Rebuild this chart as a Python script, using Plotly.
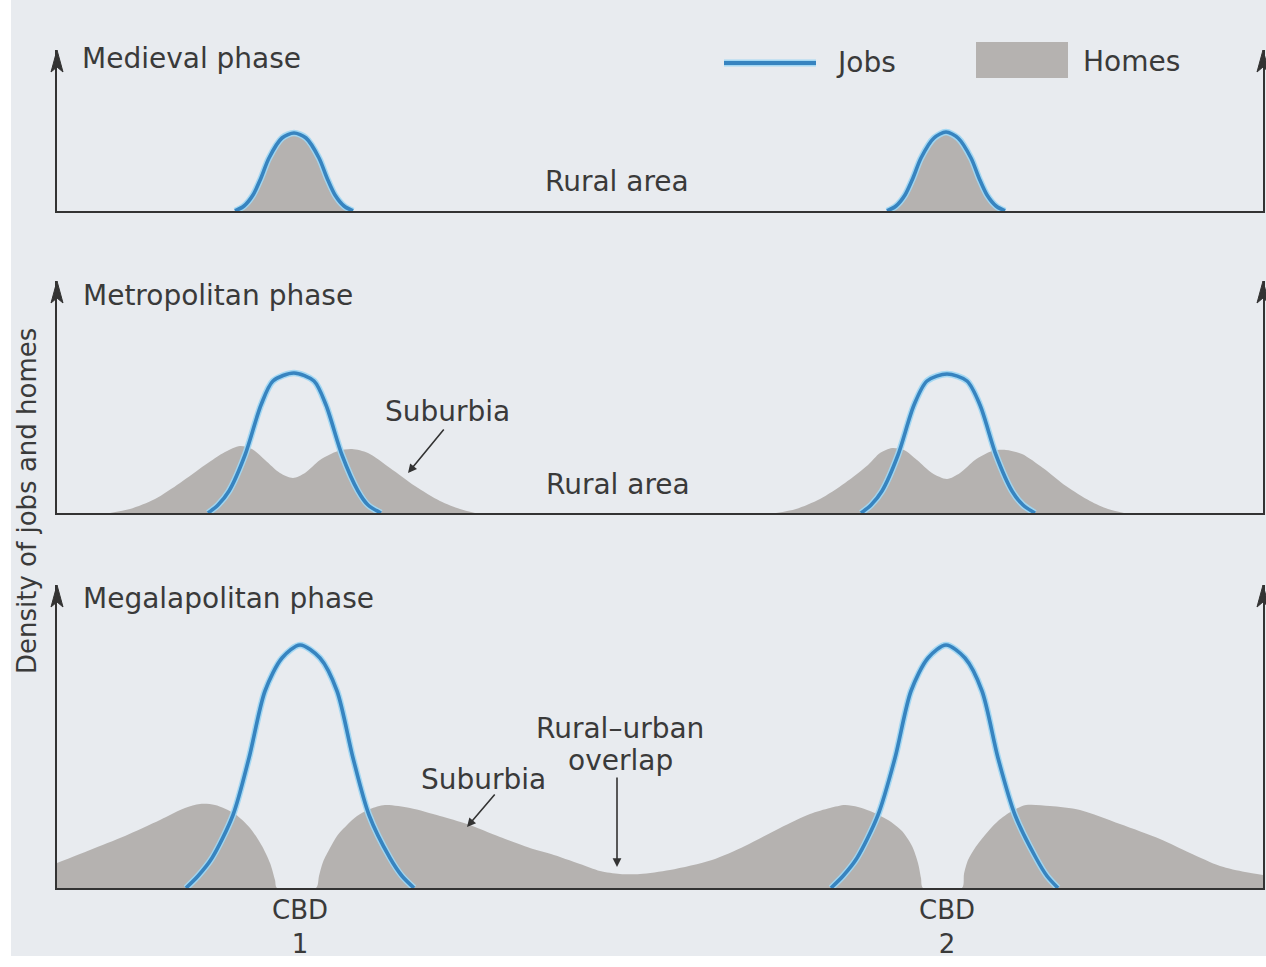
import plotly.graph_objects as go

W, H = 1266, 967

# ---------------- data (distance along transect, density) ----------------
cbd_x = [300, 947]
cbd_labels = ["CBD<br>1", "CBD<br>2"]

# Medieval phase: jobs (homes share the same outline)
med_jobs1_x = [235, 244, 253, 261, 269, 282, 294, 306, 319, 327, 335, 344, 353]
med_jobs1_y = [0, 5, 16, 33, 53, 73, 78, 73, 53, 33, 16, 5, 0]
med_jobs2_x = [887, 896, 905, 913, 921, 934, 946, 958, 971, 979, 987, 996, 1005]
med_jobs2_y = [0, 5, 16, 33, 53, 73, 79, 73, 53, 33, 16, 5, 0]
med_homes1_y = [0, 5, 16, 33, 53, 73, 78, 73, 53, 33, 16, 5, 0]
med_homes2_y = [0, 5, 16, 33, 53, 73, 79, 73, 53, 33, 16, 5, 0]

# Metropolitan phase
met_jobs1_x = [208, 218, 229, 245, 261, 273, 294, 314, 326, 342, 358, 368, 381]
met_jobs1_y = [0, 8, 22, 58, 108, 132, 140, 132, 108, 58, 22, 8, 0]
met_jobs2_x = [861, 871, 882, 898, 914, 927, 947, 967, 980, 996, 1012, 1023, 1035]
met_jobs2_y = [0, 8, 22, 58, 108, 132, 139, 132, 108, 58, 22, 8, 0]
met_homes1_x = [110, 130, 155, 180, 205, 225, 240, 252, 265, 280, 293, 305, 320, 338, 352, 368, 390, 415, 440, 460, 475]
met_homes1_y = [0, 4, 14, 30, 48, 61, 67, 64, 53, 40, 35, 40, 53, 62, 64, 60, 45, 27, 12, 4, 0]
met_homes2_x = [776, 796, 820, 845, 868, 880, 892, 904, 917, 932, 947, 960, 975, 992, 1006, 1022, 1043, 1066, 1090, 1108, 1124]
met_homes2_y = [0, 4, 14, 30, 48, 60, 65, 63, 53, 40, 34, 40, 53, 62, 63, 59, 45, 27, 12, 4, 0]

# Megalopolitan phase
meg_jobs1_x = [186, 198, 212, 233, 249, 265, 282, 300, 320, 337, 353, 369, 390, 402, 414]
meg_jobs1_y = [0, 12, 30, 73, 130, 197, 230, 243, 230, 197, 130, 73, 30, 12, 0]
meg_jobs2_x = [831, 843, 857, 878, 895, 911, 928, 946, 965, 982, 998, 1015, 1036, 1047, 1058]
meg_jobs2_y = [0, 12, 30, 73, 130, 197, 230, 243, 230, 197, 130, 73, 30, 12, 0]
meg_homes_x = [57, 90, 125, 160, 185, 200, 215, 235, 250, 262, 270, 275, 277,
               316, 319, 323, 330, 337, 347, 357, 370, 385, 410, 440, 467, 500, 533, 551,
               580, 600, 620, 640, 670, 712, 745, 780, 810, 830, 845, 858, 870, 888,
               902, 912, 918, 921, 923,
               962, 964, 968, 975, 985, 998, 1012, 1026, 1050, 1080, 1120, 1160, 1190, 1220, 1245, 1263]
meg_homes_y = [25, 38, 52, 68, 80, 84, 83, 74, 60, 42, 25, 8, 0,
               0, 12, 26, 40, 52, 63, 72, 79, 83, 80, 72, 64, 51, 39, 34,
               24, 17, 14, 14, 18, 28, 42, 60, 74, 80, 83, 81, 77, 68,
               57, 42, 25, 10, 0,
               0, 14, 28, 40, 53, 67, 77, 83, 82, 78, 64, 49, 35, 22, 16, 13]

# ---------------- styling ----------------
BG = "#e8ebef"
GRAY = "#b5b2b0"
BLUE = "#3784c0"
HALO = "rgba(160,215,242,0.95)"
TXT = "#3a3a3a"
AX = "#333333"
FONT = "DejaVu Sans"

# panel geometry (baseline pixel, arrow-tip pixel)
panels = [(211, 50), (513, 281), (888, 585)]
XL, XR = 57, 1263


def py(p):
    return 1 - p / H


def px(p):
    return p / W


fig = go.Figure()


def add_homes(x, y, k):
    fig.add_trace(go.Scatter(x=x, y=y, mode="lines", fill="tozeroy", fillcolor=GRAY,
                             line=dict(width=0, color=GRAY, shape="spline", smoothing=0.8),
                             xaxis=f"x{k}" if k > 1 else "x", yaxis=f"y{k}" if k > 1 else "y",
                             showlegend=False, hoverinfo="skip"))


def add_jobs(x, y, k):
    xa = f"x{k}" if k > 1 else "x"
    ya = f"y{k}" if k > 1 else "y"
    fig.add_trace(go.Scatter(x=x, y=y, mode="lines",
                             line=dict(width=6.5, color=HALO, shape="spline", smoothing=0.8),
                             xaxis=xa, yaxis=ya, showlegend=False, hoverinfo="skip"))
    fig.add_trace(go.Scatter(x=x, y=y, mode="lines",
                             line=dict(width=3.6, color=BLUE, shape="spline", smoothing=0.8),
                             xaxis=xa, yaxis=ya, showlegend=False, hoverinfo="skip"))


add_homes(med_jobs1_x, med_homes1_y, 1)
add_homes(med_jobs2_x, med_homes2_y, 1)
add_jobs(med_jobs1_x, med_jobs1_y, 1)
add_jobs(med_jobs2_x, med_jobs2_y, 1)

add_homes(met_homes1_x, met_homes1_y, 2)
add_homes(met_homes2_x, met_homes2_y, 2)
add_jobs(met_jobs1_x, met_jobs1_y, 2)
add_jobs(met_jobs2_x, met_jobs2_y, 2)

add_homes(meg_homes_x, meg_homes_y, 3)
add_jobs(meg_jobs1_x, meg_jobs1_y, 3)
add_jobs(meg_jobs2_x, meg_jobs2_y, 3)

layout = dict(width=W, height=H, margin=dict(l=0, r=0, t=0, b=0),
              paper_bgcolor="#ffffff", plot_bgcolor=BG, showlegend=False,
              font=dict(family=FONT, size=28, color=TXT))
for i, (base, tip) in enumerate(panels, start=1):
    sfx = "" if i == 1 else str(i)
    layout[f"xaxis{sfx}"] = dict(domain=[px(XL), px(XR)], range=[XL, XR],
                                 anchor=f"y{sfx}", showline=True, linecolor=AX, linewidth=2,
                                 showgrid=False, zeroline=False, showticklabels=False,
                                 ticks="", fixedrange=True)
    layout[f"yaxis{sfx}"] = dict(domain=[py(base), py(tip)], range=[0, base - tip],
                                 anchor=f"x{sfx}", showline=True, mirror=True, linecolor=AX,
                                 linewidth=2, showgrid=False, zeroline=False,
                                 showticklabels=False, ticks="", fixedrange=True)
fig.update_layout(**layout)

# page background (scan area), with the white scan margins left and bottom
fig.add_shape(type="rect", xref="paper", yref="paper", x0=px(11), x1=1, y0=py(956), y1=1,
              fillcolor=BG, line=dict(width=0), layer="below")

ann = []


def text(t, x, y, xanchor="center", size=28):
    ann.append(dict(text=t, x=px(x), y=py(y), xref="paper", yref="paper",
                    xanchor=xanchor, yanchor="middle", showarrow=False,
                    font=dict(family=FONT, size=size, color=TXT)))


text("Medieval phase", 80, 59, "left")
text("Metropolitan phase", 81, 296, "left")
text("Megalapolitan phase", 81, 598, "left")
text("Rural area", 617, 181)
text("Rural area", 618, 484)
text("Suburbia", 447, 411)
text("Suburbia", 483, 779)
text("Rural–urban", 620, 728)
text("overlap", 620, 760)
text("Jobs", 834, 63, "left")
text("Homes", 1081, 62, "left")
ann.append(dict(text="Density of jobs and homes", x=px(27), y=py(501), xref="paper",
                yref="paper", textangle=-90, showarrow=False, xanchor="center",
                yanchor="middle", font=dict(family=FONT, size=26, color=TXT)))

for cx, lab in zip(cbd_x, cbd_labels):
    ann.append(dict(text=lab, x=cx, y=py(927), xref="x3", yref="paper", showarrow=False,
                    yanchor="middle", font=dict(family=FONT, size=26, color=TXT)))

# pointer arrows
for tipx, tipy, dx, dy in [(408, 473, 37, -45), (467, 827, 29, -34), (617, 867, 0, -91)]:
    ann.append(dict(text="", x=px(tipx), y=py(tipy), xref="paper", yref="paper",
                    showarrow=True, ax=dx, ay=dy, arrowhead=2, arrowsize=1.1,
                    arrowwidth=1.6, arrowcolor=AX))

fig.update_layout(annotations=ann)

# axis arrowheads (narrow notched triangles on top of each vertical axis)
for base, tip in panels:
    for xx in (XL, XR):
        path = (f"M {px(xx)} {py(tip)} L {px(xx - 6)} {py(tip + 22)} "
                f"L {px(xx)} {py(tip + 17)} L {px(xx + 6)} {py(tip + 22)} Z")
        fig.add_shape(type="path", xref="paper", yref="paper", path=path,
                      fillcolor=AX, line=dict(color=AX, width=1))

# legend keys
fig.add_shape(type="line", xref="paper", yref="paper", x0=px(724), x1=px(816),
              y0=py(63), y1=py(63), line=dict(color=HALO, width=7))
fig.add_shape(type="line", xref="paper", yref="paper", x0=px(724), x1=px(816),
              y0=py(63), y1=py(63), line=dict(color=BLUE, width=4))
fig.add_shape(type="rect", xref="paper", yref="paper", x0=px(976), x1=px(1068),
              y0=py(78), y1=py(42), fillcolor=GRAY, line=dict(width=0))

fig.write_html("out.html", config={"displayModeBar": False},
               post_script="document.body.style.margin='0';document.body.style.overflow='hidden';")
